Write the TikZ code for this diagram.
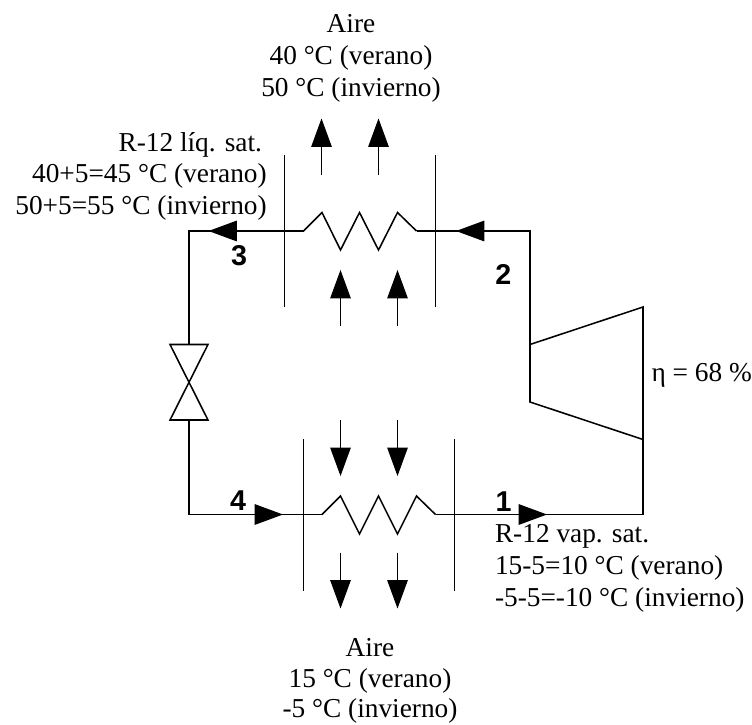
\documentclass[tikz,border=0pt]{standalone}
\usepackage{fontspec}
\setmainfont{Liberation Serif}
\newfontfamily\numfont{Liberation Sans}
\usetikzlibrary{arrows.meta}
\tikzset{
  pipe/.style={line width=1.15pt,line join=miter},
  thin line/.style={line width=0.7pt},
  flow/.style={-{Triangle[length=21.3pt,width=15.4pt]},line width=0.75pt},
  pipeflow/.style={-{Triangle[length=21.3pt,width=15.4pt]},line width=1.15pt},
  lbl/.style={inner sep=0pt,outer sep=0pt,anchor=base,font=\fontsize{20.5}{24.15}\selectfont},
  num/.style={inner sep=0pt,outer sep=0pt,anchor=base,font=\fontsize{21.5}{24}\selectfont\numfont\bfseries}
}
\begin{document}
\begin{tikzpicture}[x=0.75pt,y=-0.75pt]
\useasboundingbox (0,0) rectangle (752,724);
% circuit corners
\coordinate (c3) at (189,231);
\coordinate (c2) at (530,231);
\coordinate (c4) at (189,514.5);
\coordinate (c1) at (643,514.5);
\coordinate (vtop) at (189,344.5);
\coordinate (vbot) at (189,420);
\coordinate (tl1) at (530,344.5);
\coordinate (tl2) at (530,402);
\coordinate (tr1) at (643,307);
\coordinate (tr2) at (643,439.5);
\coordinate (ca) at (303.5,231);
\coordinate (cb) at (416.5,231);
\coordinate (ea) at (322,514.5);
\coordinate (eb) at (435.5,514.5);
% piping
\draw[pipe] (vtop) -- (c3) -- (ca);
\draw[pipe] (cb) -- (c2) -- (tl1);
\draw[pipe] (vbot) -- (c4) -- (ea);
\draw[pipe] (eb) -- (c1) -- (tr2);
% condenser coil
\draw[pipe] (ca) -- (322,212.5) -- (340.5,250) -- (359.5,212.5) -- (378.5,250) -- (397.5,212.5) -- (cb);
% evaporator coil
\draw[pipe] (ea) -- (340.5,496) -- (359.5,534) -- (378.5,496) -- (397.5,534) -- (416.5,496) -- (eb);
% compressor
\draw[pipe] (tl1) -- (tr1) -- (tr2) -- (tl2) -- cycle;
% valve
\draw[pipe] (170,344.5) -- (208,344.5) -- (170,420) -- (208,420) -- cycle;
% exchanger walls
\draw[thin line] (284,155) -- (284,306.5);
\draw[thin line] (435.5,155) -- (435.5,306.5);
\draw[thin line] (303,439) -- (303,591);
\draw[thin line] (454.5,439) -- (454.5,591);
% pipe arrows
\draw[pipeflow] (ca) -- (208.5,231);
\draw[pipeflow] (c2) -- (456,231);
\draw[pipeflow] (c4) -- (283,514.5);
\draw[pipeflow] (eb) -- (547,514.5);
% air arrows
\draw[flow] (321.5,174.5) -- (321.5,118.5);
\draw[flow] (378.5,174.5) -- (378.5,118.5);
\draw[flow] (340.5,326) -- (340.5,270);
\draw[flow] (397.5,326) -- (397.5,270);
\draw[flow] (340.5,420) -- (340.5,476);
\draw[flow] (397.5,420) -- (397.5,476);
\draw[flow] (340.5,552.5) -- (340.5,608.5);
\draw[flow] (397.5,552.5) -- (397.5,608.5);
% labels
\node[lbl,align=center] (airetop) at (351,96.7) {Aire\\40 °C (verano)\\50 °C (invierno)};
\node[lbl,align=center,font=\fontsize{20.5}{22.8}\selectfont] (airebot) at (370,717.5) {Aire\\15 °C (verano)\\-5 °C (invierno)};
\node[lbl,align=right,anchor=base east,font=\fontsize{20.5}{23.4}\selectfont] (liq) at (266.7,214) {R-12 líq. sat.\hspace*{3.5pt}\\40+5=45 °C (verano)\hspace*{3.5pt}\\50+5=55 °C (invierno)};
\node[lbl,align=left,anchor=base west] (vap) at (495,606.7) {R-12 vap. sat.\\15-5=10 °C (verano)\\-5-5=-10 °C (invierno)};
\node[lbl,anchor=base west] (eta) at (651.5,381.7) {η = 68 \%};
\node[num] (n1) at (503.5,511) {1};
\node[num] (n2) at (503.3,284) {2};
\node[num] (n3) at (239,265) {3};
\node[num] (n4) at (238,510.5) {4};
\end{tikzpicture}
\end{document}
